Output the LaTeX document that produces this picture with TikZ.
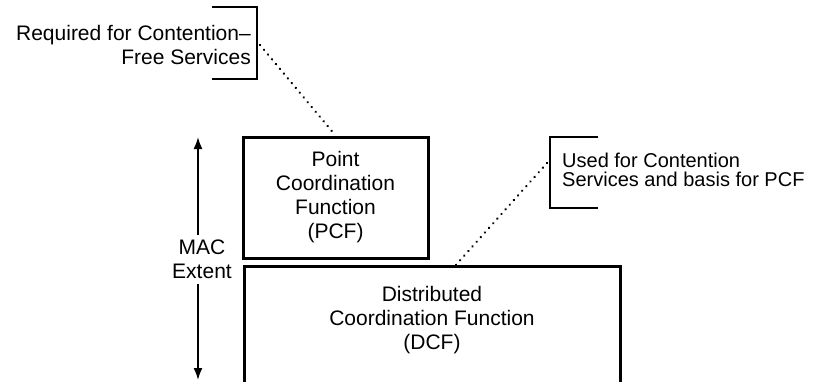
\documentclass[tikz,border=0pt]{standalone}
\usepackage{fontspec}
\setmainfont{Liberation Sans}
\usetikzlibrary{arrows.meta}
\begin{document}
\begin{tikzpicture}[x=1pt, y=-1pt,
    fnbox/.style={draw, line width=3pt, align=center, font=\fontsize{21}{24}\selectfont},
    note/.style={font=\fontsize{21}{24}\selectfont},
    brace/.style={line width=2.4pt},
    dotline/.style={line width=2.6pt, line cap=round, dash pattern=on 0.01pt off 6.2pt}
  ]
    \clip (0,0) rectangle (819,381);
    \fill[white] (0,0) rectangle (819,381);

    % --- Point Coordination Function ---
    \node[fnbox, minimum width=185pt, minimum height=121pt] (pcf) at (335.5,197.5)
      {Point\\Coordination\\Function\\(PCF)};

    % --- Distributed Coordination Function (open at the bottom) ---
    \draw[line width=3pt] (244,400) |- (620,266) -- (620,400);
    \node[note, align=center] (dcf) at (432,320)
      {Distributed\\Coordination Function\\(DCF)};
    \coordinate (dcftop) at (455,266);

    % --- MAC extent arrow ---
    \draw[line width=1.8pt, {Latex[length=12pt,width=9pt]}-{Latex[length=12pt,width=9pt]}]
      (198,137) -- (198,380);
    \node[note, fill=white, align=center, inner sep=5pt] (mac) at (202,259.5) {MAC\\Extent};

    % --- Note: contention-free services ---
    \node[note, align=right, anchor=east, inner sep=0pt] (reqnote) at (251,45)
      {Required for Contention--\\Free Services};
    \draw[brace] (212,7) -- (257,7) -- (257,79) -- (212,79);
    \coordinate (reqtip) at (260,45);

    % --- Note: contention services ---
    \node[note, align=left, anchor=west, inner sep=0pt, font=\fontsize{20}{19.5}\selectfont] (usednote) at (562,170)
      {Used for Contention\\Services and basis for PCF};
    \draw[brace] (598,137) -- (550,137) -- (550,208) -- (598,208);
    \coordinate (usedtip) at (547,163);

    % --- Dotted leaders ---
    \draw[dotline] (reqtip) -- (pcf.north);
    \draw[dotline] (usedtip) -- (dcftop);
\end{tikzpicture}
\end{document}
